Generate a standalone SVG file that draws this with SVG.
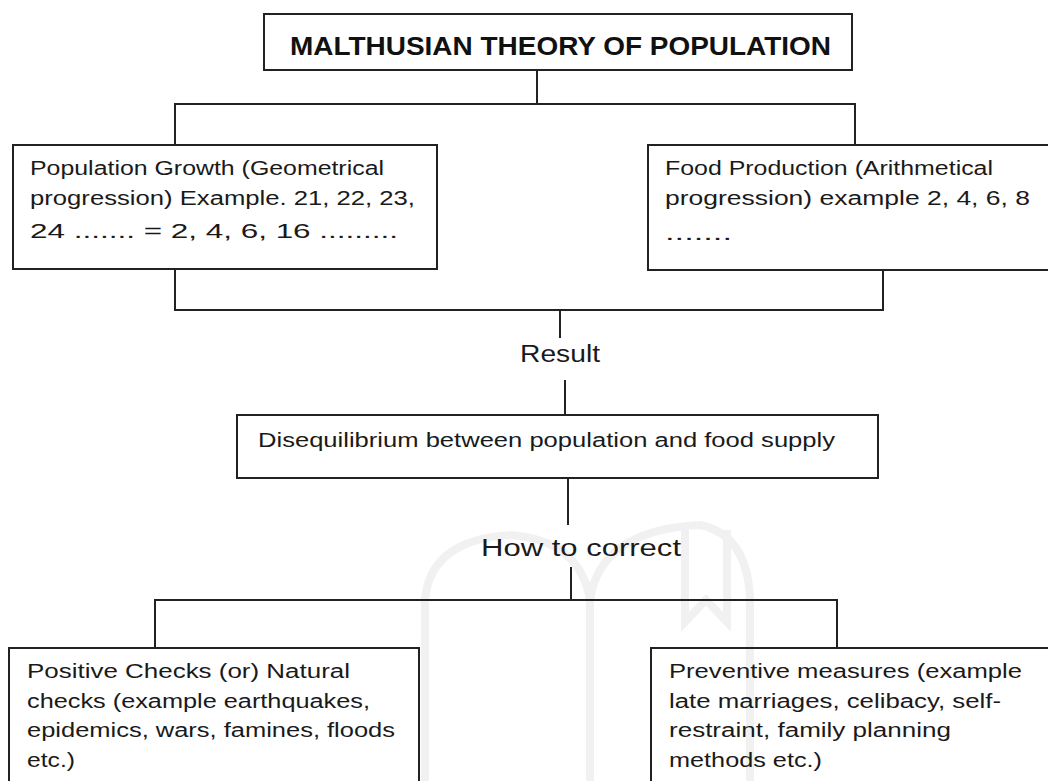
<svg xmlns="http://www.w3.org/2000/svg" width="1048" height="781" viewBox="0 0 1048 781">
<style>
.box{fill:none;stroke:#222;stroke-width:2}
.ln{fill:none;stroke:#222;stroke-width:2}
.t{font-family:"Liberation Sans",Arial,sans-serif;font-size:20px;fill:#1a1a1a}
.lbl{font-family:"Liberation Sans",Arial,sans-serif;font-size:23px;fill:#1a1a1a}
.title{font-family:"Liberation Sans",Arial,sans-serif;font-size:26px;font-weight:bold;fill:#111}
.wm{fill:none;stroke:#f1f1f1;stroke-width:8}
</style>
<rect width="1048" height="781" fill="#fff"/>
<g id="watermark">
<path class="wm" d="M425,781 V600 Q430,540 510,535 Q580,540 590,600 V781"/>
<path class="wm" d="M590,600 Q600,530 700,525 Q748,535 750,600 V781"/>
<path class="wm" d="M685,525 V622 L706,600 L727,622 V530"/>
</g>
<g id="connectors">
<line class="ln" x1="537" y1="70" x2="537" y2="104"/>
<polyline class="ln" points="175,145 175,104 855,104 855,145"/>
<polyline class="ln" points="175,269 175,310 883,310 883,270"/>
<line class="ln" x1="560" y1="310" x2="560" y2="338"/>
<line class="ln" x1="565" y1="380" x2="565" y2="415"/>
<line class="ln" x1="568" y1="478" x2="568" y2="525"/>
<line class="ln" x1="571" y1="567" x2="571" y2="600"/>
<polyline class="ln" points="155,648 155,600 837,600 837,648"/>
</g>
<g id="title">
<rect class="box" x="264" y="14" width="588" height="56"/>
<text class="title" x="290" y="55" textLength="541" lengthAdjust="spacingAndGlyphs">MALTHUSIAN THEORY OF POPULATION</text>
</g>
<g id="population-growth">
<rect class="box" x="13" y="145" width="424" height="124"/>
<text class="t" x="30" y="175" textLength="354" lengthAdjust="spacingAndGlyphs">Population Growth (Geometrical</text>
<text class="t" x="30" y="205" textLength="385" lengthAdjust="spacingAndGlyphs">progression) Example. 21, 22, 23,</text>
<text class="t" x="30" y="238" textLength="368" lengthAdjust="spacingAndGlyphs">24 ....... = 2, 4, 6, 16 .........</text>
</g>
<g id="food-production">
<rect class="box" x="648" y="145" width="410" height="125"/>
<text class="t" x="665" y="175" textLength="328" lengthAdjust="spacingAndGlyphs">Food Production (Arithmetical</text>
<text class="t" x="665" y="205" textLength="365" lengthAdjust="spacingAndGlyphs">progression) example 2, 4, 6, 8</text>
<text class="t" x="665" y="240" textLength="67" lengthAdjust="spacingAndGlyphs">.......</text>
</g>
<g id="result-label">
<text class="lbl" x="520" y="362" textLength="80" lengthAdjust="spacingAndGlyphs">Result</text>
</g>
<g id="disequilibrium">
<rect class="box" x="237" y="415" width="641" height="63"/>
<text class="t" x="258" y="447" textLength="577" lengthAdjust="spacingAndGlyphs">Disequilibrium between population and food supply</text>
</g>
<g id="how-label">
<text class="lbl" x="481" y="556" textLength="200" lengthAdjust="spacingAndGlyphs">How to correct</text>
</g>
<g id="positive-checks">
<rect class="box" x="9" y="648" width="410" height="150"/>
<text class="t" x="27" y="678" textLength="323" lengthAdjust="spacingAndGlyphs">Positive Checks (or) Natural</text>
<text class="t" x="27" y="708" textLength="343" lengthAdjust="spacingAndGlyphs">checks (example earthquakes,</text>
<text class="t" x="27" y="737" textLength="368" lengthAdjust="spacingAndGlyphs">epidemics, wars, famines, floods</text>
<text class="t" x="27" y="767" textLength="48" lengthAdjust="spacingAndGlyphs">etc.)</text>
</g>
<g id="preventive-measures">
<rect class="box" x="651" y="648" width="410" height="150"/>
<text class="t" x="669" y="678" textLength="353" lengthAdjust="spacingAndGlyphs">Preventive measures (example</text>
<text class="t" x="669" y="708" textLength="332" lengthAdjust="spacingAndGlyphs">late marriages, celibacy, self-</text>
<text class="t" x="669" y="737" textLength="282" lengthAdjust="spacingAndGlyphs">restraint, family planning</text>
<text class="t" x="669" y="767" textLength="153" lengthAdjust="spacingAndGlyphs">methods etc.)</text>
</g>
</svg>
